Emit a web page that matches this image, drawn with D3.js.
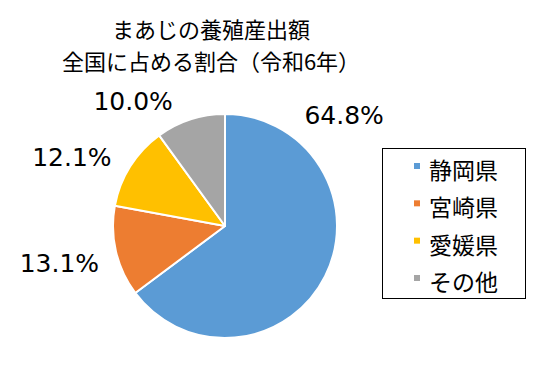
<!DOCTYPE html>
<html>
<head>
<meta charset="utf-8">
<script src="https://cdn.jsdelivr.net/npm/d3@7"></script>
<style>
  body { margin: 0; background: #fff; }
  text { font-family: "Noto Sans CJK JP", "Noto Sans", sans-serif; fill: #000; }
  text.lbl { font-family: "DejaVu Sans", sans-serif; }
</style>
</head>
<body>
<div class="contain"></div>
<script>
// data
const titleLines = ["まあじの養殖産出額", "全国に占める割合（令和6年）"];
const prefectures = ["静岡県", "宮崎県", "愛媛県", "その他"];
const shares = [64.8, 13.1, 12.1, 10.0];
const colors = ["#5B9BD5", "#ED7D31", "#FFC000", "#A5A5A5"];

const svg_width = 557;
const svg_height = 367;
const cx = 225, cy = 226, radius = 112;
const label_radius = 168;
// Excel moves some labels away from the slice middle
const label_nudge = [[-31, -186], [-2, -1], [-11, 21], [-40, 35]];

let svg = d3.select(".contain").append("svg")
            .attr("width", svg_width).attr("height", svg_height);

// title
svg.append("g").selectAll("text")
  .data(titleLines).enter().append("text")
  .attr("x", 211)
  .attr("y", (d, i) => 28 + i * 32)
  .attr("text-anchor", "middle")
  .attr("dominant-baseline", "central")
  .style("font-size", "22px")
  .text(d => d);

let pie = d3.pie().sort(null).value(d => d);
let arcs = pie(shares);

let arc = d3.arc().innerRadius(0).outerRadius(radius);
let labelArc = d3.arc().innerRadius(label_radius).outerRadius(label_radius);

let g = svg.append("g").attr("transform", `translate(${cx}, ${cy})`);
g.selectAll("path")
  .data(arcs).enter().append("path")
  .attr("d", arc)
  .attr("fill", (d, i) => colors[i])
  .attr("stroke", "#fff")
  .attr("stroke-width", 2)
  .attr("stroke-linejoin", "round");

g.selectAll("text.lbl")
  .data(arcs).enter().append("text")
  .attr("class", "lbl")
  .attr("x", (d, i) => labelArc.centroid(d)[0] + label_nudge[i][0])
  .attr("y", (d, i) => labelArc.centroid(d)[1] + label_nudge[i][1])
  .attr("text-anchor", "middle")
  .attr("dominant-baseline", "central")
  .style("font-size", "25px")
  .text(d => d.data.toFixed(1) + "%");

// legend
let legend = svg.append("g");
legend.append("rect")
  .attr("x", 382.5).attr("y", 148.5)
  .attr("width", 143).attr("height", 150)
  .attr("fill", "none").attr("stroke", "#000").attr("stroke-width", 1);

let rowY = d3.scalePoint().domain(prefectures).range([169, 281]);
let items = legend.selectAll("g.item")
  .data(prefectures).enter().append("g")
  .attr("class", "item")
  .attr("transform", d => `translate(0, ${rowY(d)})`);
items.append("rect")
  .attr("x", 414).attr("y", -6)
  .attr("width", 6).attr("height", 6)
  .attr("fill", (d, i) => colors[i]);
items.append("text")
  .attr("x", 429).attr("y", 0)
  .attr("dominant-baseline", "central")
  .style("font-size", "23px")
  .text(d => d);
</script>
</body>
</html>
